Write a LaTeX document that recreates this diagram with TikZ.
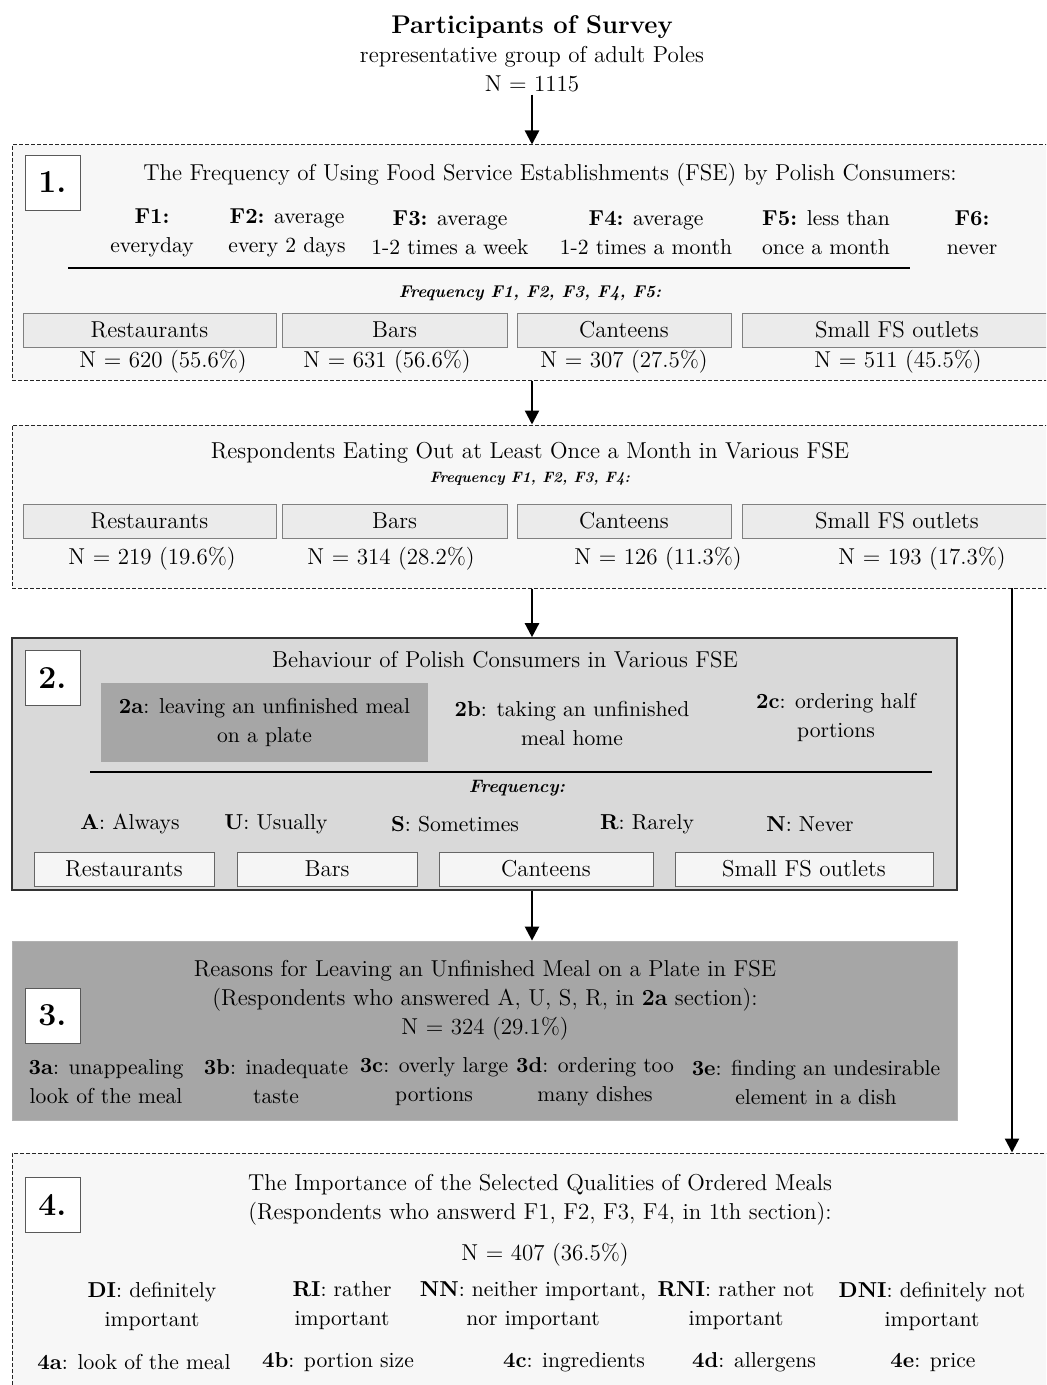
\documentclass[tikz,border=0pt]{standalone}
\usepackage{xcolor}
\usepackage{tikz}
\usetikzlibrary{arrows.meta, positioning}
\tikzstyle{txt} = [align=center, inner sep=1pt, font=\fontsize{11.5}{14.5}\selectfont]
\tikzstyle{item} = [txt, font=\fontsize{10.8}{14.5}\selectfont]
\tikzstyle{arrow} = [line width=1.2pt, -{Triangle[length=7pt, width=7pt]}]
\tikzstyle{dash-box} = [rectangle, draw=black!85, line width=0.5pt, dash pattern=on 2pt off 1pt, fill=black!3]
\tikzstyle{num-box} = [rectangle, draw=black!65, fill=white, minimum width=27.5pt, minimum height=27.5pt, font=\fontsize{16}{18}\selectfont\bfseries]
\tikzstyle{fse-rect} = [rectangle, draw=black!50, fill=black!8, text centered, minimum height=17pt, font=\fontsize{11.5}{14.5}\selectfont]
\tikzstyle{fse-rect-light} = [fse-rect, draw=black!60, fill=black!4]
\tikzstyle{sub-freq} = [inner sep=1pt, font=\fontsize{8.5}{10}\selectfont\bfseries\itshape]

\begin{document}
\begin{tikzpicture}[x=0.5pt, y=-0.5pt]
        \clip (0,0) rectangle (1046,1385);
        \fill[white] (0,0) rectangle (1046,1385);

        % participants
        \node [txt] (participants) at (532,54) {{\fontsize{12.8}{15}\selectfont\bfseries Participants of Survey}\\representative group of adult Poles\\N = 1115};

        % section 1
        \node [dash-box, minimum width=520pt, minimum height=117.5pt] (sec1a) at (532,262.5) {};
        \node [num-box] (num1) at (52.5,182.5) {1.};
        \node [txt] (freq-title) at (550,175) {The Frequency of Using Food Service Establishments (FSE) by Polish Consumers:};
        \node [item] (f1) at (152,233) {\textbf{F1:}\\everyday};
        \node [item] (f2) at (287,233) {\textbf{F2:} average\\every 2 days};
        \node [item] (f3) at (450,233) {\textbf{F3:} average\\1-2 times a week};
        \node [item] (f4) at (646,233) {\textbf{F4:} average\\1-2 times a month};
        \node [item] (f5) at (826,233) {\textbf{F5:} less than\\once a month};
        \node [item] (f6) at (972,233) {\textbf{F6:}\\never};
        \draw [line width=0.9pt] (68,268) -- (910,268);
        \node [sub-freq] (sub1) at (530,293) {Frequency F1, F2, F3, F4, F5:};
        \node [fse-rect, minimum width=126.5pt] (rest1) at (149.5,330) {Restaurants};
        \node [fse-rect, minimum width=112.5pt] (bars1) at (394.5,330) {Bars};
        \node [fse-rect, minimum width=107pt] (cant1) at (624,330) {Canteens};
        \node [fse-rect, minimum width=155pt] (small1) at (897,330) {Small FS outlets};
        \node [txt] (n-rest1) at (163,362) {N = 620 (55.6\%)};
        \node [txt] (n-bars1) at (387,362) {N = 631 (56.6\%)};
        \node [txt] (n-cant1) at (624,362) {N = 307 (27.5\%)};
        \node [txt] (n-small1) at (898,362) {N = 511 (45.5\%)};

        % eating out
        \node [dash-box, minimum width=520pt, minimum height=81.5pt] (sec1b) at (532,506.5) {};
        \node [txt] (out-title) at (530,453) {Respondents Eating Out at Least Once a Month in Various FSE};
        \node [sub-freq, font=\fontsize{7.5}{9}\selectfont\bfseries\itshape] (sub2) at (530,479) {Frequency F1, F2, F3, F4:};
        \node [fse-rect, minimum width=126.5pt] (rest2) at (149.5,521) {Restaurants};
        \node [fse-rect, minimum width=112.5pt] (bars2) at (394.5,521) {Bars};
        \node [fse-rect, minimum width=107pt] (cant2) at (624,521) {Canteens};
        \node [fse-rect, minimum width=155pt] (small2) at (897,521) {Small FS outlets};
        \node [txt] (n-rest2) at (152,559) {N = 219 (19.6\%)};
        \node [txt] (n-bars2) at (391,559) {N = 314 (28.2\%)};
        \node [txt] (n-cant2) at (658,559) {N = 126 (11.3\%)};
        \node [txt] (n-small2) at (922,559) {N = 193 (17.3\%)};

        % section 2
        \node [rectangle, draw=black!80, line width=0.8pt, fill=black!15, minimum width=472.5pt, minimum height=126pt] (sec2) at (484.5,764) {};
        \node [num-box] (num2) at (52.5,677.5) {2.};
        \node [txt] (beh-title) at (505,660) {Behaviour of Polish Consumers in Various FSE};
        \node [item, fill=black!35, minimum width=163.5pt, minimum height=39.5pt] (b2a) at (264.5,722.5) {\textbf{2a}: leaving an unfinished meal\\on a plate};
        \node [item] (b2b) at (572,723) {\textbf{2b}: taking an unfinished\\meal home};
        \node [item] (b2c) at (836,717) {\textbf{2c}: ordering half\\portions};
        \draw [line width=0.9pt] (90,772) -- (932,772);
        \node [sub-freq, font=\fontsize{9}{10}\selectfont\bfseries\itshape] (sub3) at (517,788) {Frequency:};
        \node [item] (always) at (130,824) {\textbf{A}: Always};
        \node [item] (usually) at (276,824) {\textbf{U}: Usually};
        \node [item] (sometimes) at (455,824) {\textbf{S}: Sometimes};
        \node [item] (rarely) at (647,824) {\textbf{R}: Rarely};
        \node [item] (never) at (810,824) {\textbf{N}: Never};
        \node [fse-rect-light, minimum width=90pt] (rest3) at (124,869) {Restaurants};
        \node [fse-rect-light, minimum width=90pt] (bars3) at (327,869) {Bars};
        \node [fse-rect-light, minimum width=107pt] (cant3) at (546,869) {Canteens};
        \node [fse-rect-light, minimum width=129pt] (small3) at (804,869) {Small FS outlets};

        % section 3
        \node [rectangle, draw=black!30, fill=black!35, minimum width=472.5pt, minimum height=89.5pt] (sec3) at (484.5,1030.5) {};
        \node [num-box] (num3) at (52.5,1015.5) {3.};
        \node [txt] (reason-title) at (485,1000) {Reasons for Leaving an Unfinished Meal on a Plate in FSE\\(Respondents who answered A, U, S, R, in \textbf{2a} section):\\N = 324 (29.1\%)};
        \node [item] (r3a) at (106,1082) {\textbf{3a}: unappealing\\look of the meal};
        \node [item] (r3b) at (276,1082) {\textbf{3b}: inadequate\\taste};
        \node [item] (r3c) at (434,1082) {\textbf{3c}: overly large\\portions};
        \node [item] (r3d) at (595,1082) {\textbf{3d}: ordering too\\many dishes};
        \node [item] (r3e) at (816,1082) {\textbf{3e}: finding an undesirable\\element in a dish};

        % section 4
        \node [dash-box, minimum width=520pt, minimum height=121pt] (sec4) at (532,1274) {};
        \node [num-box] (num4) at (52.5,1204.5) {4.};
        \node [txt] (imp-title) at (540,1200) {The Importance of the Selected Qualities of Ordered Meals\\(Respondents who answerd F1, F2, F3, F4, in 1th section):};
        \node [txt] (n-imp) at (545,1255) {N = 407 (36.5\%)};
        \node [item] (di) at (152,1306) {\textbf{DI}: definitely\\important};
        \node [item] (ri) at (342,1306) {\textbf{RI}: rather\\important};
        \node [item] (nn) at (533,1306) {\textbf{NN}: neither important,\\nor important};
        \node [item] (rni) at (736,1306) {\textbf{RNI}: rather not\\important};
        \node [item] (dni) at (932,1306) {\textbf{DNI}: definitely not\\important};
        \node [item] (q4a) at (134,1362) {\textbf{4a}: look of the meal};
        \node [item] (q4b) at (338,1362) {\textbf{4b}: portion size};
        \node [item] (q4c) at (574,1362) {\textbf{4c}: ingredients};
        \node [item] (q4d) at (754,1362) {\textbf{4d}: allergens};
        \node [item] (q4e) at (933,1362) {\textbf{4e}: price};

        % arrows
        \coordinate (side) at (1012,588);
        \draw [arrow] (participants.south) -- (sec1a.north);
        \draw [arrow] (sec1a.south) -- (sec1b.north);
        \draw [arrow] (sec1b.south) -- (sec1b.south |- sec2.north);
        \draw [arrow] (sec1b.south |- sec2.south) -- (sec1b.south |- sec3.north);
        \draw [arrow] (side) -- (side |- sec4.north);
\end{tikzpicture}
\end{document}
